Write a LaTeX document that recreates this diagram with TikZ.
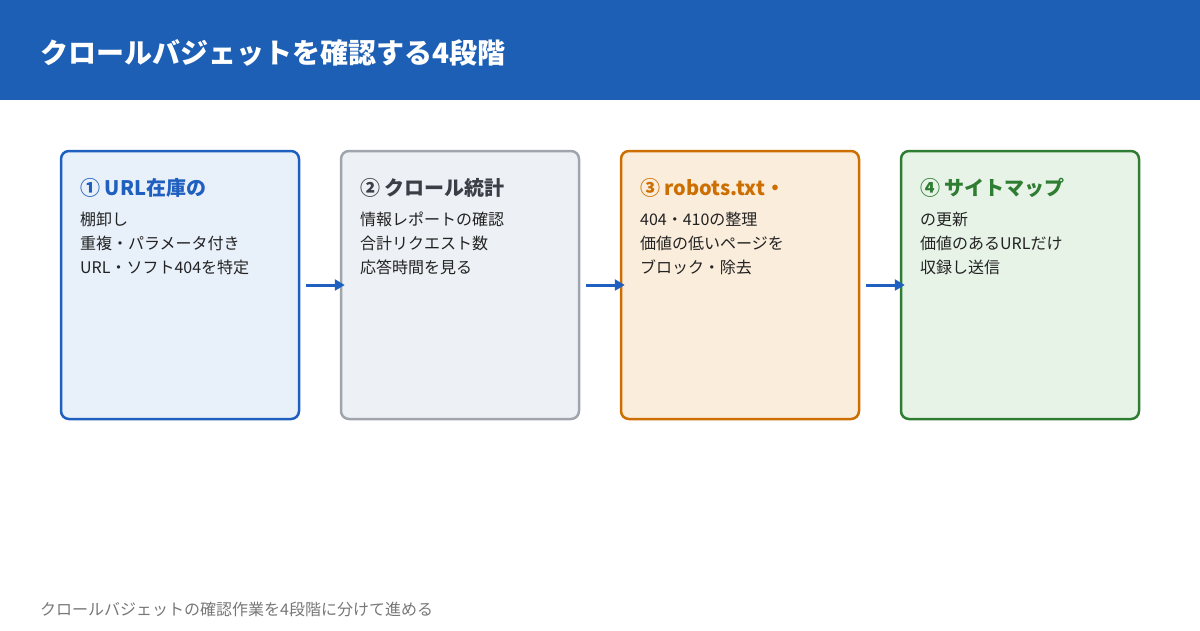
\documentclass[tikz,border=0pt]{standalone}
\usepackage{fontspec}
\setmainfont{Noto Sans CJK JP}
\usetikzlibrary{arrows.meta}
\definecolor{hdr}{HTML}{1C5FB4}
\definecolor{cB}{HTML}{1F5FBF}\definecolor{fB}{HTML}{E8F0FA}
\definecolor{cG}{HTML}{A0A5AD}\definecolor{fG}{HTML}{EDF0F4}
\definecolor{cO}{HTML}{CC6F00}\definecolor{fO}{HTML}{FBEDDC}
\definecolor{cN}{HTML}{2E7D32}\definecolor{fN}{HTML}{E8F3E8}
\definecolor{body}{HTML}{222222}\definecolor{tG}{HTML}{3A3F47}
\definecolor{foot}{HTML}{777777}
\begin{document}
\begin{tikzpicture}[x=1pt,y=-1pt,
  box/.style={draw=#1,line width=2.5pt,rounded corners=8pt,minimum width=238pt,minimum height=268pt,inner sep=0pt},
  ttl/.style={anchor=base west,inner sep=0pt,font=\fontsize{20}{24}\selectfont\bfseries,text=#1},
  txt/.style={anchor=base west,inner sep=0pt,font=\fontsize{16}{24}\selectfont,text=body,align=left},
  arr/.style={draw=cB,line width=3pt,-{Triangle[length=10pt,width=11pt]}}]
\useasboundingbox (0,0) rectangle (1200,630);
\fill[hdr] (0,0) rectangle (1200,100);
\node[anchor=base west,inner sep=0pt,text=white,font=\fontsize{28}{32}\selectfont\bfseries] (title) at (40,63) {クロールバジェットを確認する4段階};
\node[box=cB,fill=fB] (b1) at (180,285) {};
\node[box=cG,fill=fG] (b2) at (460,285) {};
\node[box=cO,fill=fO] (b3) at (740,285) {};
\node[box=cN,fill=fN] (b4) at (1020,285) {};
\foreach \i/\x/\c/\t/\a/\b/\d in {
 1/80/cB/{① URL在庫の}/{棚卸し}/{重複・パラメータ付き}/{URL・ソフト404を特定},
 2/360/tG/{② クロール統計}/{情報レポートの確認}/{合計リクエスト数}/{応答時間を見る},
 3/640/cO/{③ robots.txt・}/{404・410の整理}/{価値の低いページを}/{ブロック・除去},
 4/920/cN/{④ サイトマップ}/{の更新}/{価値のあるURLだけ}/{収録し送信}}{
 \node[ttl=\c] (t\i) at (\x,195) {\t};
 \node[txt] (l\i a) at (\x,225) {\a};
 \node[txt] (l\i b) at (\x,249) {\b};
 \node[txt] (l\i c) at (\x,273) {\d};
}
\draw[arr] ([xshift=6pt]b1.east) -- ([xshift=5pt]b2.west);
\draw[arr] ([xshift=6pt]b2.east) -- ([xshift=5pt]b3.west);
\draw[arr] ([xshift=6pt]b3.east) -- ([xshift=5pt]b4.west);
\node[anchor=base west,inner sep=0pt,text=foot,font=\fontsize{16}{20}\selectfont] (ft) at (40,615) {クロールバジェットの確認作業を4段階に分けて進める};
\end{tikzpicture}
\end{document}
